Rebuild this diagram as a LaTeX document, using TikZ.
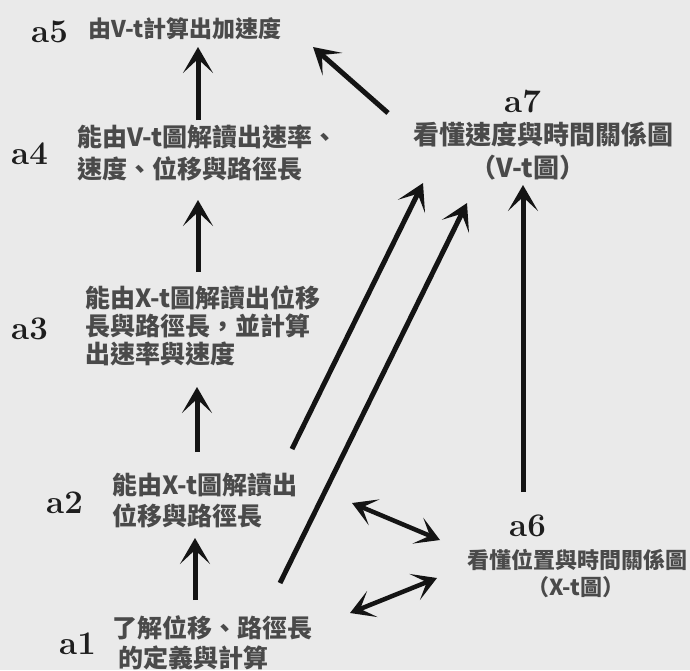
\documentclass[tikz,border=0pt]{standalone}
\usepackage{fontspec}
\newfontfamily\cjk{Noto Sans CJK TC}
\usetikzlibrary{arrows.meta}
\definecolor{bg}{HTML}{EAEAEA}
\definecolor{txt}{HTML}{4A4A4A}
\definecolor{labc}{HTML}{1E1E1E}
\definecolor{arrc}{HTML}{141414}
\begin{document}
\begin{tikzpicture}[x=1pt,y=-1pt,
  lab/.style={font=\bfseries\fontsize{33}{33}\selectfont, text=labc, inner sep=0pt, anchor=base west},
  cj/.style={font=\cjk\bfseries\fontsize{25}{25}\selectfont, text=txt, inner sep=0pt, anchor=west},
  cjs/.style={font=\cjk\bfseries\fontsize{22}{22}\selectfont, text=txt, inner sep=0pt},
  arr/.style={line width=5pt, draw=arrc, -{Stealth[length=26pt,width=30pt,inset=14pt]}},
  darr/.style={line width=4.5pt, draw=arrc, {Stealth[length=24pt,width=28pt,inset=13pt]}-{Stealth[length=24pt,width=28pt,inset=13pt]}}]
\fill[bg] (0,0) rectangle (690,670);
\useasboundingbox (0,0) rectangle (690,670);
% labels
\node[lab] (L5) at (31,42) {a5};
\node[lab] (L4) at (11,164) {a4};
\node[lab] (L3) at (11,339) {a3};
\node[lab] (L2) at (46,513) {a2};
\node[lab] (L1) at (59,654) {a1};
\node[lab] (L7) at (504,112) {a7};
\node[lab] (L6) at (509,536) {a6};
% texts
\node[cj, font=\cjk\bfseries\fontsize{23}{23}\selectfont] (t5) at (88,29) {由V-t計算出加速度};
\node[cj] (t4a) at (77,137) {能由V-t圖解讀出速率、};
\node[cj] (t4b) at (77,169) {速度、位移與路徑長};
\node[cj] (t3a) at (85,298) {能由X-t圖解讀出位移};
\node[cj] (t3b) at (85,326) {長與路徑長，並計算};
\node[cj] (t3c) at (85,354) {出速率與速度};
\node[cj] (t2a) at (112,485) {能由X-t圖解讀出};
\node[cj] (t2b) at (112,516) {位移與路徑長};
\node[cj] (t1a) at (112,628) {了解位移、路徑長};
\node[cj] (t1b) at (118,658) {的定義與計算};
\node[cj, anchor=center, font=\cjk\bfseries\fontsize{26}{26}\selectfont] (t7a) at (543,135) {看懂速度與時間關係圖};
\node[cj, anchor=center, font=\cjk\bfseries\fontsize{26}{26}\selectfont] (t7b) at (528,168) {（V-t圖）};
\node[cjs] (t6a) at (577,560) {看懂位置與時間關係圖};
\node[cjs] (t6b) at (576,587) {（X-t圖）};
% arrow end points
\coordinate (p45s) at (198,120); \coordinate (p45e) at (198,47);
\coordinate (p75s) at (388,113); \coordinate (p75e) at (313,47);
\coordinate (p34s) at (198,272); \coordinate (p34e) at (198,200);
\coordinate (p23s) at (197,452); \coordinate (p23e) at (197,387);
\coordinate (p12s) at (195,600); \coordinate (p12e) at (195,538);
\coordinate (p27s) at (292,449); \coordinate (p27e) at (423,183);
\coordinate (p17s) at (280,583); \coordinate (p17e) at (467,203);
\coordinate (p67s) at (523,492); \coordinate (p67e) at (523,185);
\coordinate (p26a) at (352,503); \coordinate (p26b) at (440,540);
\coordinate (p16a) at (350,613); \coordinate (p16b) at (437,578);
% arrows
\draw[arr] (p45s) -- (p45e);
\draw[arr] (p75s) -- (p75e);
\draw[arr] (p34s) -- (p34e);
\draw[arr] (p23s) -- (p23e);
\draw[arr] (p12s) -- (p12e);
\draw[arr] (p27s) -- (p27e);
\draw[arr] (p17s) -- (p17e);
\draw[arr] (p67s) -- (p67e);
\draw[darr] (p26a) -- (p26b);
\draw[darr] (p16a) -- (p16b);
\end{tikzpicture}
\end{document}
